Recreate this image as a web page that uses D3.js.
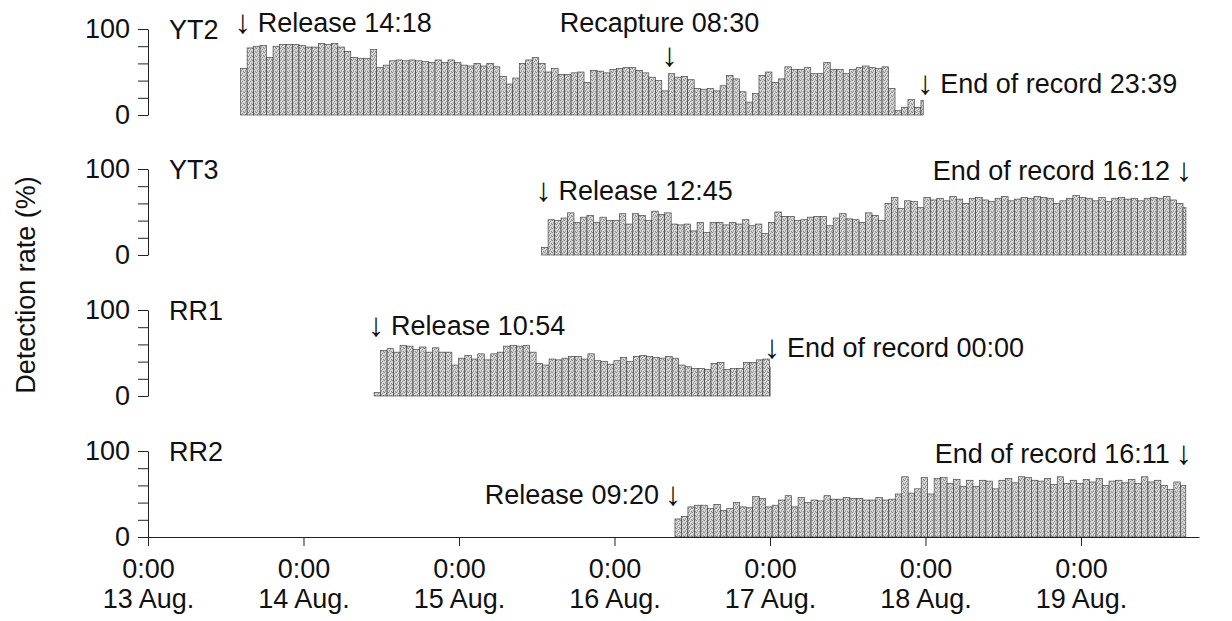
<!DOCTYPE html>
<html>
<head>
<meta charset="utf-8">
<script src="https://cdn.jsdelivr.net/npm/d3@7/dist/d3.min.js"></script>
<style>
  html, body { margin: 0; padding: 0; background: #fff; }
  svg { display: block; }
  text { font-family: "Liberation Sans", Arial, sans-serif; fill: #111; }
</style>
</head>
<body>
<svg id="chart" width="1232" height="621"></svg>
<script>
// ---------------- DATA ----------------
const panelNames = ["YT2", "YT3", "RR1", "RR2"];
const releaseTimes = ["2000-08-13T14:18Z", "2000-08-15T12:45Z", "2000-08-14T10:54Z", "2000-08-16T09:20Z"];
const endTimes     = ["2000-08-17T23:39Z", "2000-08-19T16:12Z", "2000-08-17T00:00Z", "2000-08-19T16:11Z"];
const releaseLabels = ["Release 14:18", "Release 12:45", "Release 10:54", "Release 09:20"];
const endLabels     = ["End of record 23:39", "End of record 16:12", "End of record 00:00", "End of record 16:11"];
const recaptureTime = "2000-08-16T08:30Z";
const recaptureLabel = "Recapture 08:30";

// hourly detection rate (%) per fish
const yt2Values = [54,78,80,81,67,80,82,82,82,81,79,79,83,82,83,79,74,67,66,66,76,55,58,63,64,63,64,63,62,61,64,61,64,61,58,57,60,
  57,60,56,45,36,43,60,64,67,60,50,54,47,47,49,50,38,52,51,49,53,54,55,55,52,49,44,40,28,48,44,45,41,31,30,31,28,34,46,42,27,15,25,46,50,38,42,56,53,53,55,48,48,61,53,53,48,53,55,57,55,54,
  56,31,5,9,18,9,17];
const yt3Values = [9,41,40,43,49,38,44,46,38,44,40,40,48,36,48,46,40,51,47,49,36,35,36,28,38,26,38,38,35,38,36,41,34,36,25,38,50,45,45,40,41,44,45,45,34,43,48,42,41,38,49,46,40,60,67,54,63,62,55,67,64,
  66,63,68,65,60,66,67,64,62,66,68,63,65,67,66,68,67,66,60,63,66,69,67,66,63,67,62,66,67,65,66,63,66,67,66,68,64,60,55];
const rr1Values = [4,53,55,51,59,58,54,57,51,56,51,51,36,44,47,43,49,
  42,49,51,58,59,58,59,51,38,36,43,42,44,46,46,43,49,41,40,37,41,45,40,46,47,46,45,44,46,44,36,34,32,32,31,38,39,31,32,32,39,39,42,43,34];
const rr2Values = [21,24,35,37,37,33,38,31,33,40,35,34,47,45,35,37,43,48,35,46,40,43,42,48,44,44,46,45,45,43,43,46,43,44,50,70,51,56,69,50,68,69,62,67,59,66,59,66,65,56,66,68,63,70,69,66,65,68,61,70,62,
  66,62,67,64,68,60,65,66,63,67,62,70,64,66,60,55,64,60];
const seriesValues = [yt2Values, yt3Values, rr1Values, rr2Values];

const dayTicks = ["2000-08-13T00:00Z","2000-08-14T00:00Z","2000-08-15T00:00Z","2000-08-16T00:00Z","2000-08-17T00:00Z","2000-08-18T00:00Z","2000-08-19T00:00Z"];
const tickTimeLabels = ["0:00","0:00","0:00","0:00","0:00","0:00","0:00"];
const tickDateLabels = ["13 Aug.","14 Aug.","15 Aug.","16 Aug.","17 Aug.","18 Aug.","19 Aug."];
const yTickValues = [0, 20, 40, 60, 80, 100];
const yAxisTitle = "Detection rate (%)";

// ---------------- LAYOUT ----------------
const svg = d3.select("#chart");
const FS = 27;
const AFS = 33;
const xLeft = 148, xRight = 1199;
const panelBottoms = [115, 255, 396, 537];
const panelH = 86;
const HOUR = 3600 * 1000;
const ARROW = "\u2193";

const x = d3.scaleUtc()
  .domain([new Date("2000-08-13T00:00Z"), new Date("2000-08-19T18:13Z")])
  .range([xLeft, xRight]);

// halftone-like pattern for bars
const defs = svg.append("defs");
const pat = defs.append("pattern").attr("id", "dots")
  .attr("width", 4).attr("height", 4).attr("patternUnits", "userSpaceOnUse");
pat.append("rect").attr("width", 4).attr("height", 4).attr("fill", "#d8d8d8");
[[0,0,"#7c7c7c"],[2,1,"#8e8e8e"],[3,3,"#858585"],[1,2,"#999"],[3,0,"#b4b4b4"],[1,3,"#ababab"]].forEach(([px,py,c]) =>
  pat.append("rect").attr("x", px).attr("y", py).attr("width", 1).attr("height", 1).attr("fill", c));

// label layout per panel: baselines relative to y(100)
const relDy  = [3, 31, 25, 53];
const endDy  = [64, 11, 47, 12];
const relSide = ["start", "start", "start", "end"];
const endSide = ["start", "end", "start", "end"];

panelNames.forEach((name, p) => {
  const y = d3.scaleLinear().domain([0, 100]).range([panelBottoms[p], panelBottoms[p] - panelH]);
  const g = svg.append("g");
  const rel = new Date(releaseTimes[p]);
  const end = new Date(endTimes[p]);
  const bars = seriesValues[p].map((v, i) => {
    const t0 = new Date(rel.getTime() + i * HOUR);
    let t1 = new Date(rel.getTime() + (i + 1) * HOUR);
    if (t1 > end) t1 = end;
    return { t0, t1, v };
  });

  g.append("g").selectAll("rect").data(bars).join("rect")
    .attr("x", d => x(d.t0))
    .attr("width", d => Math.max(0.8, x(d.t1) - x(d.t0)))
    .attr("y", d => y(d.v))
    .attr("height", d => y(0) - y(d.v))
    .attr("fill", "url(#dots)")
    .attr("stroke", "#333")
    .attr("stroke-width", 0.6);

  // y axis
  const ya = g.append("g").attr("transform", `translate(${xLeft},0)`)
    .call(d3.axisLeft(y).tickValues(yTickValues)
      .tickFormat(d => (d === 0 || d === 100) ? d : "")
      .tickSize(10).tickSizeOuter(0).tickPadding(8));
  ya.select(".domain").attr("stroke", "#222").attr("stroke-width", 1);
  ya.selectAll(".tick line").attr("stroke", "#222");
  ya.selectAll("text").attr("font-size", FS).attr("font-family", "Liberation Sans, Arial, sans-serif").attr("fill", "#111");

  const top = y(100);
  // panel name
  g.append("text").attr("x", xLeft + 21).attr("y", top + 10)
    .attr("font-size", FS).text(name);

  // annotations
  const xr = x(rel), xe = x(end);
  function arrow(xa, baseline) {
    g.append("text").attr("x", xa).attr("y", baseline + 1).attr("font-size", AFS)
      .attr("text-anchor", "middle").style("fill", "#111").text(ARROW);
  }
  function annotate(xt, baseline, side, label) {
    if (side === "start") {
      arrow(xt + 2, baseline);
      g.append("text").attr("x", xt + 17).attr("y", baseline).attr("font-size", FS).text(label);
    } else {
      arrow(xt - 2, baseline);
      g.append("text").attr("x", xt - 16).attr("y", baseline).attr("font-size", FS)
        .attr("text-anchor", "end").text(label);
    }
  }
  annotate(xr, top + relDy[p], relSide[p], releaseLabels[p]);
  annotate(xe, top + endDy[p], endSide[p], endLabels[p]);

  if (p === 0) {
    const xc = x(new Date(recaptureTime));
    g.append("text").attr("x", xc - 10).attr("y", top + 3).attr("font-size", FS)
      .attr("text-anchor", "middle").text(recaptureLabel);
    arrow(xc, top + 36);
  }

  if (p === 3) {
    const xa = g.append("g").attr("transform", `translate(0,${y(0)})`)
      .call(d3.axisBottom(x).tickValues(dayTicks.map(d => new Date(d)))
        .tickSize(9).tickSizeOuter(0).tickFormat(""));
    xa.select(".domain").attr("stroke", "#222").attr("stroke-width", 1.2);
    xa.selectAll(".tick line").attr("stroke", "#222");
    const lab = xa.selectAll(".tick").append("text")
      .attr("text-anchor", "middle").attr("font-size", FS).attr("fill", "#111")
      .attr("font-family", "Liberation Sans, Arial, sans-serif");
    lab.append("tspan").attr("x", 0).attr("y", 41).text((d, i) => tickTimeLabels[i]);
    lab.append("tspan").attr("x", 0).attr("y", 71).text((d, i) => tickDateLabels[i]);
  }
});

svg.append("text")
  .attr("transform", "translate(35,285) rotate(-90)")
  .attr("text-anchor", "middle").attr("font-size", FS).text(yAxisTitle);
</script>
</body>
</html>
